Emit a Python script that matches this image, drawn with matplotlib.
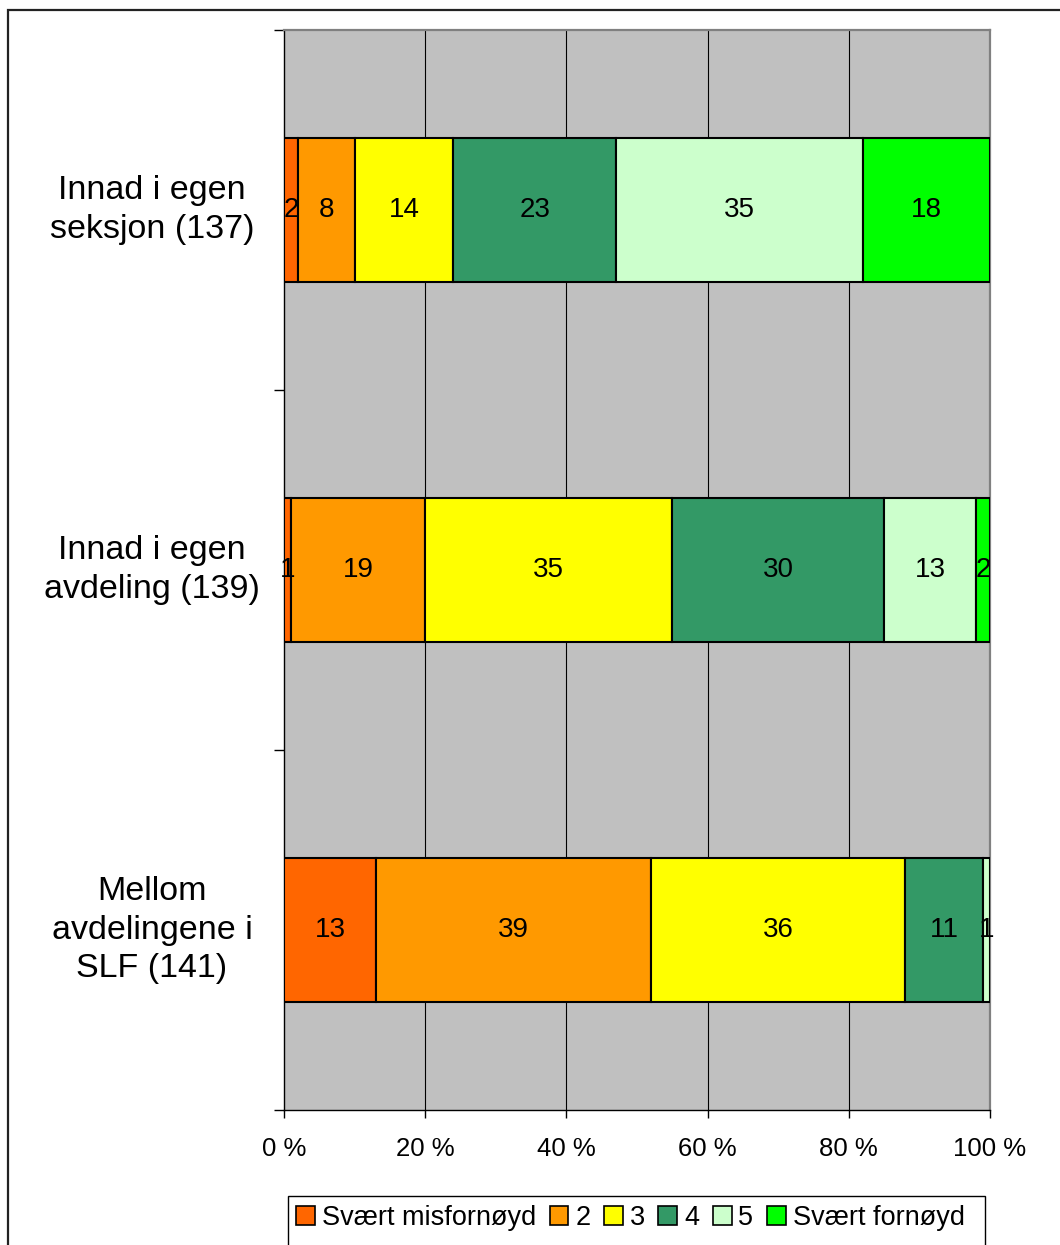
import matplotlib
matplotlib.use("Agg")
import matplotlib.pyplot as plt
from matplotlib.patches import Rectangle
from matplotlib.transforms import blended_transform_factory

plt.rcParams['font.family'] = ['Liberation Sans', 'DejaVu Sans']

# Survey groups (top to bottom) and answer scale
groups = ["Innad i egen\nseksjon (137)",
          "Innad i egen\navdeling (139)",
          "Mellom\navdelingene i\nSLF (141)"]
levels = ["Svært misfornøyd", "2", "3", "4", "5", "Svært fornøyd"]
colors = ["#FF6600", "#FF9900", "#FFFF00", "#339966", "#CCFFCC", "#00FF00"]

# Percent share per level for each group
seksjon = [2, 8, 14, 23, 35, 18]
avdeling = [1, 19, 35, 30, 13, 2]
mellom = [13, 39, 36, 11, 1, 0]
shares = [seksjon, avdeling, mellom]

xticks = [0, 20, 40, 60, 80, 100]
xtick_labels = ["0 %", "20 %", "40 %", "60 %", "80 %", "100 %"]

W, H = 1060, 1245
fig = plt.figure(figsize=(W / 100, H / 100), dpi=100)
fig.patch.set_facecolor("white")

# outer chart frame (open towards the right and bottom edges)
fig.patches.append(Rectangle((8 / W, -0.1), 1.2, 1 - 10 / H + 0.1,
                             transform=fig.transFigure, fill=False,
                             edgecolor="#222222", linewidth=1.6, zorder=0))

left, right, top, bottom = 284, 990, 30, 1110
ax = fig.add_axes([left / W, 1 - bottom / H, (right - left) / W, (bottom - top) / H])
ax.set_facecolor("#C0C0C0")

bar_h = 0.40
for gi, row in enumerate(shares):
    total = sum(row)
    start = 0.0
    for li, v in enumerate(row):
        w = 100.0 * v / total
        if w <= 0:
            continue
        bars = ax.barh(gi, w, left=start, height=bar_h, color=colors[li],
                       edgecolor="black", linewidth=1.5, zorder=3)
        t = ax.text(start + w / 2, gi, f"{v:.0f}", ha="center", va="center",
                    fontsize=20, color="black", zorder=4)
        t.set_clip_path(bars.patches[0])
        start += w

ax.set_xlim(0, 100)
ax.set_ylim(2.5, -0.5)
ax.set_xticks(xticks)
ax.set_xticklabels(xtick_labels, fontsize=18.5)
ax.set_yticks([-0.5, 0.5, 1.5, 2.5])
ax.set_yticklabels([])
ax.tick_params(axis="y", direction="out", length=7.5, width=1, color="black")
ax.tick_params(axis="x", direction="out", length=6, width=1, color="black", pad=13.5)

# vertical gridlines
for gx in xticks[1:-1]:
    ax.axvline(gx, color="black", linewidth=0.8, zorder=1)

ax.spines["left"].set_color("black")
ax.spines["bottom"].set_color("black")
ax.spines["left"].set_linewidth(1)
ax.spines["bottom"].set_linewidth(1)
for s in ("top", "right"):
    ax.spines[s].set_color("#808080")
    ax.spines[s].set_linewidth(1.6)

# category labels, centred in the left margin
trans = blended_transform_factory(fig.transFigure, ax.transData)
for gi, g in enumerate(groups):
    ax.text(152 / W, gi, g, transform=trans, ha="center", va="center",
            multialignment="center", fontsize=24.5, linespacing=1.32)

# legend box
fig.patches.append(Rectangle((288 / W, -0.05), (985 - 288) / W, 0.05 + 1 - 1196 / H,
                             transform=fig.transFigure, fill=True, facecolor="white",
                             edgecolor="black", linewidth=1.0, zorder=1))
handles = [Rectangle((0, 0), 1, 1, facecolor=c, edgecolor="black", linewidth=1.2)
           for c in colors]
leg = fig.legend(handles, levels, loc="center left",
                 bbox_to_anchor=(296 / W, 1 - 1218 / H), ncol=6, frameon=False,
                 fontsize=19.5, handlelength=0.7, handleheight=0.7,
                 handletextpad=0.25, columnspacing=0.5, borderpad=0, borderaxespad=0)

fig.savefig("out.png", dpi=100)
